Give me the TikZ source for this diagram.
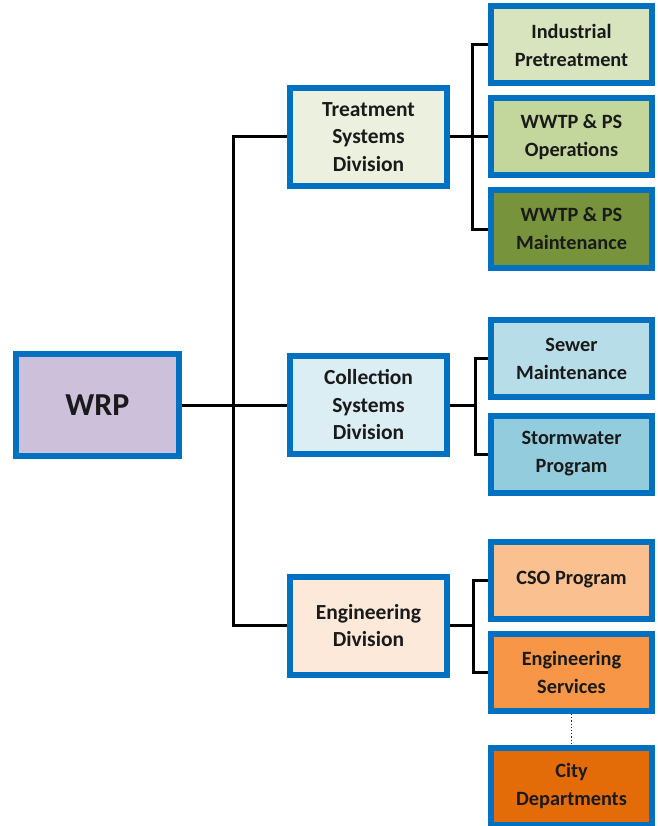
\documentclass[tikz,border=0pt]{standalone}
\usepackage{fontspec}
\setmainfont{Carlito}
\usetikzlibrary{shadows}
\definecolor{bordblue}{HTML}{0070C0}
\definecolor{cwrp}{HTML}{CCC0DA}
\definecolor{ctreat}{HTML}{EBF1DE}
\definecolor{ccoll}{HTML}{DBEEF4}
\definecolor{ceng}{HTML}{FDE9D9}
\definecolor{cind}{HTML}{D7E4BD}
\definecolor{cops}{HTML}{C3D69B}
\definecolor{cmaint}{HTML}{77933C}
\definecolor{csewer}{HTML}{B7DDE8}
\definecolor{cstorm}{HTML}{93CDDD}
\definecolor{ccso}{HTML}{FAC090}
\definecolor{cserv}{HTML}{F79646}
\definecolor{ccity}{HTML}{E36C09}
\definecolor{txt}{HTML}{1A1A1A}
\begin{document}
\begin{tikzpicture}[x=1pt,y=-1pt,
  orgbox/.style={draw=bordblue, line width=6pt, align=center, text=txt,
    font=\fontsize{20.3}{28}\selectfont\bfseries, inner sep=0pt,
    drop shadow={shadow xshift=2pt, shadow yshift=-2.5pt, opacity=0.35, fill=brown!60!black}},
  divbox/.style={orgbox, minimum width=157pt, minimum height=98pt,
    font=\fontsize{21.5}{27.5}\selectfont\bfseries},
  subbox/.style={orgbox, minimum width=161pt, minimum height=77pt},
  link/.style={draw=black, line width=3pt},
  dotlink/.style={draw=black!85, line width=1.2pt, dotted}]
\useasboundingbox (0,0) rectangle (657,826);
\fill[white] (0,0) rectangle (657,826);
% top level
\node[orgbox, fill=cwrp, minimum width=163pt, minimum height=102pt,
  font=\fontsize{32}{36}\selectfont\bfseries] (wrp) at (97.5,405) {WRP};
% divisions
\node[divbox, fill=ctreat] (treat) at (368.5,137) {Treatment\\Systems\\Division};
\node[divbox, fill=ccoll] (coll) at (368.5,405) {Collection\\Systems\\Division};
\node[divbox, fill=ceng] (eng) at (368.5,625.5) {Engineering\\Division};
% sub units
\node[subbox, fill=cind] (ind) at (571.5,45) {Industrial\\Pretreatment};
\node[subbox, fill=cops] (ops) at (571.5,137) {WWTP \& PS\\Operations};
\node[subbox, fill=cmaint] (mnt) at (571.5,229) {WWTP \& PS\\Maintenance};
\node[subbox, fill=csewer] (sew) at (571.5,358.5) {Sewer\\Maintenance};
\node[subbox, fill=cstorm] (storm) at (571.5,454) {Stormwater\\Program};
\node[subbox, fill=ccso] (cso) at (571.5,580) {CSO Program};
\node[subbox, fill=cserv] (serv) at (571.5,672.5) {Engineering\\Services};
\node[subbox, fill=ccity] (city) at (571.5,786) {City\\Departments};
% connectors
\coordinate (trunk) at (233,405);
\draw[link] (wrp.east) -- (trunk);
\draw[link] (trunk) |- (treat.west);
\draw[link] (trunk) |- (eng.west);
\draw[link] (trunk) -- (coll.west);
\draw[link] (treat.east) -- ++(22,0) |- (ind.west);
\draw[link] (treat.east) -- (ops.west);
\draw[link] (treat.east) -- ++(22,0) |- (mnt.west);
\draw[link] (coll.east) -- ++(25,0) |- (sew.west);
\draw[link] (coll.east) -- ++(25,0) |- (storm.west);
\draw[link] (eng.east) -- ++(23,0) |- (cso.west);
\draw[link] (eng.east) -- ++(23,0) |- (serv.west);
\draw[dotlink] (serv.south) -- (city.north);
\end{tikzpicture}
\end{document}
